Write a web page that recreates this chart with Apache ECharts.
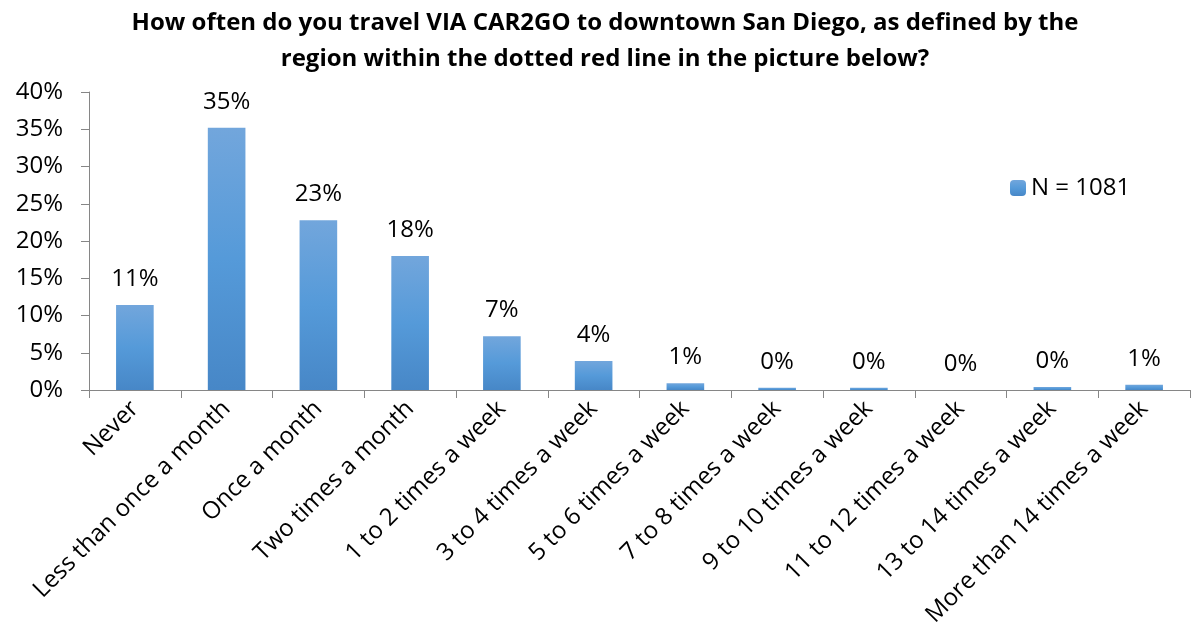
<!DOCTYPE html>
<html>
<head>
    <meta charset="utf-8">
    <title>CAR2GO downtown</title>
    <script type="text/javascript" src="https://cdn.jsdelivr.net/npm/echarts@6/dist/echarts.min.js"></script>
    <style>
        html, body { margin: 0; padding: 0; background: #fff; }
        #chart { width: 1200px; height: 634px; }
    </style>
</head>
<body>
<div id="chart"></div>
<script>
    var categories = ['Never', 'Less than once a month', 'Once a month', 'Two times a month',
        '1 to 2 times a week', '3 to 4 times a week', '5 to 6 times a week', '7 to 8 times a week',
        '9 to 10 times a week', '11 to 12 times a week', '13 to 14 times a week', 'More than 14 times a week'];
    var values = [11.4, 35.2, 22.8, 18.0, 7.2, 3.9, 0.9, 0.3, 0.3, 0.0, 0.4, 0.7];
    var yTicks = [0, 5, 10, 15, 20, 25, 30, 35, 40];
    var seriesName = 'N = 1081';

    var font = 'Open Sans, Liberation Sans, sans-serif';
    var chart = echarts.init(document.getElementById('chart'));
    var option = {
        title: {
            text: 'How often do you travel VIA CAR2GO to downtown San Diego, as defined by the\nregion within the dotted red line in the picture below?',
            left: 600,
            top: 0,
            textAlign: 'center',
            textStyle: {
                fontFamily: font, fontSize: 24, fontWeight: 'bold', color: '#000', lineHeight: 36, align: 'center'
            }
        },
        legend: {
            data: [seriesName],
            left: 1005,
            top: 171,
            itemWidth: 16,
            itemHeight: 16,
            itemGap: 6,
            textStyle: { fontFamily: font, fontSize: 24, color: '#000' }
        },
        grid: { left: 89, right: 10, top: 92, bottom: 244, containLabel: false },
        xAxis: {
            type: 'category',
            data: categories,
            axisLine: { lineStyle: { color: '#868686' } },
            axisTick: { show: true, length: 8, lineStyle: { color: '#868686' } },
            axisLabel: {
                rotate: 45, interval: 0, margin: 15,
                fontFamily: font, fontSize: 24, color: '#000'
            }
        },
        yAxis: {
            type: 'value',
            min: yTicks[0],
            max: yTicks[yTicks.length - 1],
            interval: 5,
            splitLine: { show: false },
            axisLine: { show: true, lineStyle: { color: '#868686' } },
            axisTick: { show: true, length: 8, lineStyle: { color: '#868686' } },
            axisLabel: {
                formatter: '{value}%', margin: 26,
                fontFamily: font, fontSize: 24, color: '#000'
            }
        },
        series: [{
            name: seriesName,
            type: 'bar',
            data: values,
            barWidth: '41%',
            itemStyle: {
                color: new echarts.graphic.LinearGradient(0, 0, 0, 1, [
                    { offset: 0, color: '#72a6dc' },
                    { offset: 0.5, color: '#559ad9' },
                    { offset: 1, color: '#4787c7' }
                ])
            },
            label: {
                show: true, position: 'top', distance: 14,
                formatter: function (p) { return Math.round(p.value) + '%'; },
                fontFamily: font, fontSize: 24, color: '#000'
            }
        }]
    };
    chart.setOption(option);
</script>
</body>
</html>
